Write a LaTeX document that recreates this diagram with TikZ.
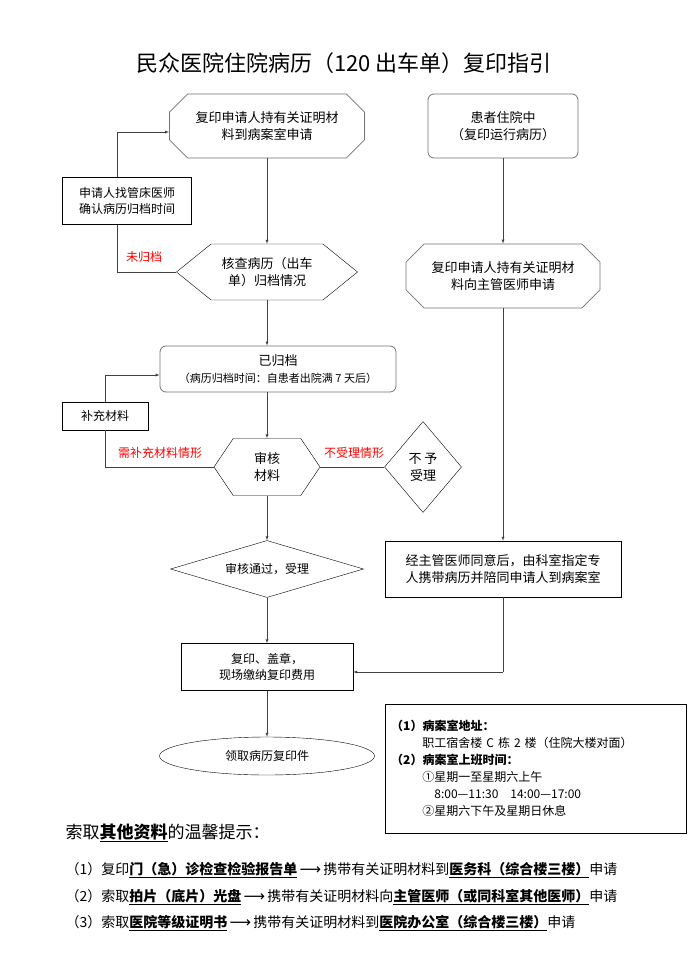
\documentclass[tikz,border=0pt]{standalone}
\usepackage{fontspec}
\setmainfont{Noto Sans CJK SC}
\newfontfamily\dejavu{DejaVu Sans}
\usetikzlibrary{shapes.geometric, shapes.misc, shapes.symbols, arrows, positioning}
\definecolor{linegray}{HTML}{404040}
\tikzstyle{octbox} = [chamfered rectangle, chamfered rectangle xsep=16pt, draw=gray!90!black, thick, align=center, inner sep=0pt]
\tikzstyle{roundbox} = [rectangle, rounded corners=6pt, draw=gray!90!black, thick, align=center, inner sep=0pt]
\tikzstyle{process} = [rectangle, draw=black, align=center, inner sep=0pt]
\tikzstyle{hexa} = [signal, signal to=west and east, draw=black, align=center, inner sep=0pt]
\tikzstyle{decision} = [diamond, draw=black, align=center, inner sep=0pt]
\tikzstyle{note} = [red, font=\fontsize{12}{14}\selectfont]
\tikzstyle{arrow} = [linegray, ->, >=latex]
\tikzstyle{link} = [linegray]
\newcommand{\ul}[1]{\underline{\textbf{#1}}}
\newcommand{\tip}{\,{\dejavu\fontsize{15}{13}\selectfont ⟶}\,}
\begin{document}
\begin{tikzpicture}[x=1pt, y=-1pt, font=\fontsize{13}{17}\selectfont]
\useasboundingbox[fill=white] (0,0) rectangle (698,958);
\node (title) at (344,63) {\fontsize{22}{26}\selectfont 民众医院住院病历（120 出车单）复印指引};

% left column
\node (apply) [octbox, minimum width=195pt, minimum height=64pt] at (267,126) {复印申请人持有关证明材\\料到病案室申请};
\node (confirm) [process, minimum width=129pt, minimum height=47pt, font=\fontsize{12}{16}\selectfont] at (127,201) {申请人找管床医师\\确认病历归档时间};
\node (check) [hexa, minimum width=181pt, minimum height=56pt, signal pointer angle=78] at (267,272) {核查病历（出车\\单）归档情况};
\node (filed) [roundbox, minimum width=236pt, minimum height=46pt] at (278,369) {已归档\\{\fontsize{11}{14}\selectfont（病历归档时间：自患者出院满 7 天后）}};
\node (supply) [process, minimum width=86pt, minimum height=28pt, font=\fontsize{12}{14}\selectfont] at (105,416) {补充材料};
\node (review) [hexa, minimum width=106pt, minimum height=57pt, signal pointer angle=112] at (267,467) {审核\\材料};
\node (reject) [decision, minimum width=77pt, minimum height=91pt, aspect=0.85] at (423,467) {不 予\\受理};
\node (accept) [decision, minimum width=193pt, minimum height=57pt, aspect=3.4, font=\fontsize{12}{14}\selectfont] at (267,569) {审核通过，受理};
\node (copy) [process, minimum width=172pt, minimum height=47pt, font=\fontsize{12}{16}\selectfont] at (267,667) {复印、盖章，\\现场缴纳复印费用};
\node (fetch) [ellipse, draw=black, minimum width=215pt, minimum height=38pt, inner sep=0pt, font=\fontsize{12}{14}\selectfont] at (267,756) {领取病历复印件};

% right column
\node (inpat) [roundbox, minimum width=150pt, minimum height=64pt] at (503,126) {患者住院中\\（复印运行病历）};
\node (doctor) [octbox, minimum width=194pt, minimum height=64pt] at (503,276) {复印申请人持有关证明材\\料向主管医师申请};
\node (escort) [process, minimum width=236pt, minimum height=56pt] at (503,569) {经主管医师同意后，由科室指定专\\人携带病历并陪同申请人到病案室};

\coordinate (c1) at (117,272);
\coordinate (c2) at (117,132);
\coordinate (c3) at (105,467);
\coordinate (c4) at (105,375);
\coordinate (c5) at (503,672);

\draw [arrow] (apply.south) -- (check.north);
\draw [link] (check.west) -- (c1) -- (confirm.south -| c1);
\draw [arrow] (confirm.north -| c1) -- (c2) -- (apply.west |- c2);
\node [note] at (144,257) {未归档};
\draw [arrow] (check.south) -- (filed.north -| check.south);
\draw [arrow] (filed.south -| review.north) -- (review.north);
\draw [link] (review.west) -- (c3) -- (supply.south -| c3);
\draw [arrow] (supply.north -| c4) -- (c4) -- (filed.west |- c4);
\node [note] at (160,453) {需补充材料情形};
\draw [link] (review.east) -- (reject.west);
\node [note] at (354,453) {不受理情形};
\draw [arrow] (review.south) -- (accept.north);
\draw [arrow] (accept.south) -- (copy.north);
\draw [arrow] (copy.south) -- (fetch.north);
\draw [arrow] (inpat.south) -- (doctor.north);
\draw [arrow] (doctor.south) -- (escort.north);
\draw [link] (escort.south) -- (c5);
\draw [arrow] (c5) -- (copy.east |- c5);

% info box
\node (info) [process, minimum width=301pt, minimum height=129pt, anchor=north west, align=left, inner sep=6pt, text width=289pt, font=\fontsize{12}{17}\selectfont] at (385,704) {\textbf{（1）病案室地址：}\\
\hspace*{2.6em}职工宿舍楼 C 栋 2 楼（住院大楼对面）\\
\textbf{（2）病案室上班时间：}\\
\hspace*{2.6em}①星期一至星期六上午\\
\hspace*{3.6em}8:00—11:30\quad 14:00—17:00\\
\hspace*{2.6em}②星期六下午及星期日休息};

% tips
\node (tips) [anchor=west, font=\fontsize{17}{19}\selectfont] at (62,833) {索取\ul{其他资料}的温馨提示：};
\node (tip1) [anchor=west, font=\fontsize{14}{17}\selectfont] at (62,870) {（1）复印\ul{门（急）诊检查检验报告单}\tip 携带有关证明材料到\ul{医务科（综合楼三楼）}申请};
\node (tip2) [anchor=west, font=\fontsize{14}{17}\selectfont] at (62,897) {（2）索取\ul{拍片（底片）光盘}\tip 携带有关证明材料向\ul{主管医师（或同科室其他医师）}申请};
\node (tip3) [anchor=west, font=\fontsize{14}{17}\selectfont] at (62,923) {（3）索取\ul{医院等级证明书}\tip 携带有关证明材料到\ul{医院办公室（综合楼三楼）}申请};
\end{tikzpicture}
\end{document}
